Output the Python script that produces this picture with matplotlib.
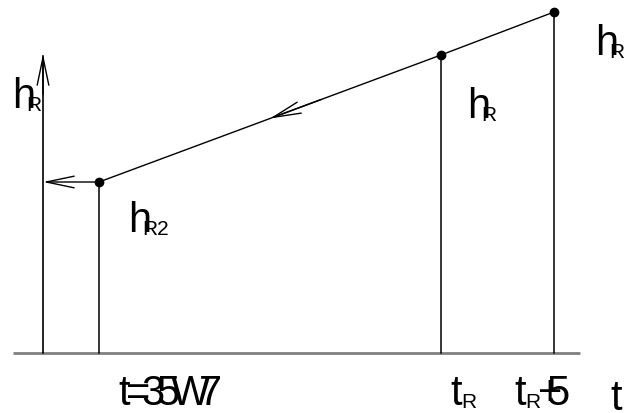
import matplotlib
matplotlib.use('Agg')
import matplotlib.pyplot as plt
from matplotlib.patches import FancyArrowPatch
from matplotlib import font_manager

# diagram values, in picture units (t to the right, h measured downward on screen)
t_origin = 43
t_base = 354
t_pts = [99, 441, 554]
h_pts = [183, 56, 13]
axis_top = 55
axis_end = [13, 580]

names = [f.name for f in font_manager.fontManager.ttflist]
fam = ['Liberation Sans Narrow'] if 'Liberation Sans Narrow' in names else ['Liberation Sans']
fam = fam + ['DejaVu Sans']

fig = plt.figure(figsize=(6.25, 4.14), dpi=100)
ax = fig.add_axes([0, 0, 1, 1])
ax.set_xlim(0, 625)
ax.set_ylim(414, 0)
ax.axis('off')

# t axis
ax.plot(axis_end, [t_base, t_base], color='#808080', lw=2, solid_capstyle='butt')

# h axis with open arrow
ax.plot([t_origin, t_origin], [t_base, axis_top + 2], color='black', lw=1.2)
ax.add_patch(FancyArrowPatch((t_origin, axis_top + 40), (t_origin, axis_top),
                             arrowstyle='->,head_length=2.0,head_width=0.42',
                             mutation_scale=10, lw=1.0, color='black',
                             shrinkA=0, shrinkB=0))

# verticals from points down to t axis
for t, h in zip(t_pts, h_pts):
    ax.plot([t, t], [h, t_base], color='black', lw=1.1)

# the sloped line and points
ax.plot(t_pts, h_pts, color='black', lw=1.0)
ax.plot(t_pts, h_pts, 'o', color='black', ms=6)

# arrow on the sloped line, pointing back towards the left point
mx = (t_pts[0] + t_pts[1]) / 2
my = (h_pts[0] + h_pts[1]) / 2
dx = t_pts[1] - t_pts[0]
dy = h_pts[1] - h_pts[0]
ax.add_patch(FancyArrowPatch((mx + dx * 0.15, my + dy * 0.15), (mx, my),
                             arrowstyle='->,head_length=2.0,head_width=0.42',
                             mutation_scale=10, lw=1.0, color='black',
                             shrinkA=0, shrinkB=0))

# horizontal arrow from left point to h axis
ax.add_patch(FancyArrowPatch((t_pts[0], h_pts[0]), (t_origin, h_pts[0]),
                             arrowstyle='->,head_length=2.0,head_width=0.42',
                             mutation_scale=10, lw=1.0, color='black',
                             shrinkA=0, shrinkB=0))

big = 30
small = 15


def label(x, y, main, sub=None, subx=None):
    ax.text(x, y, main, fontsize=big, family=fam, ha='left', va='baseline')
    if sub:
        ax.text(subx, y + 3, sub, fontsize=small, family=fam, ha='left', va='baseline')


def squeezed(x, y, s, pitch, size=big):
    for i, ch in enumerate(s):
        ax.text(x + pitch[i], y, ch, fontsize=size, family=fam, ha='left', va='baseline')


label(12, 108, 'h', 'R', 26)
label(595, 55, 'h', 'R1', 609)
label(467, 118, 'h', 'R', 481)
label(128, 232, 'h', 'R2', 142)

squeezed(118, 405, 't=35W7', [0, 8, 23, 38, 53, 81])
label(450, 405, 't', 'R', 461)
label(514, 405, 't', 'R', 525)
squeezed(538, 405, '+5', [0, 8])
label(610, 410, 't')

fig.savefig('out.png', dpi=100)
